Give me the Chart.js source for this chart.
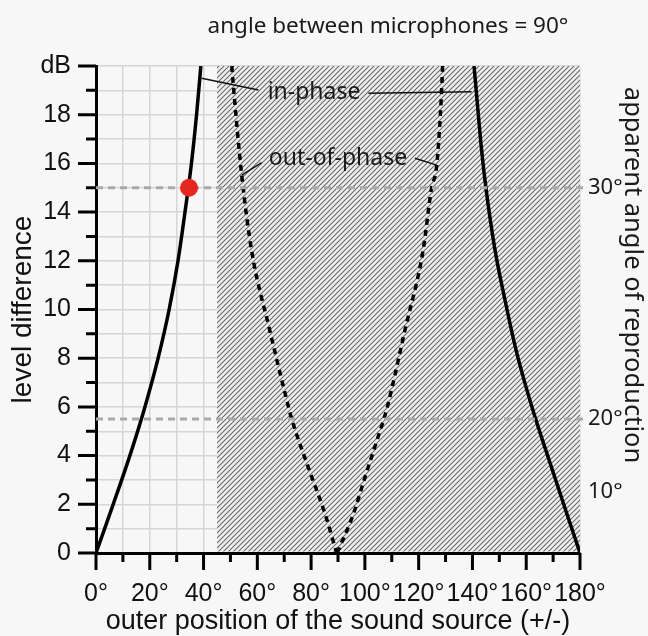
<!DOCTYPE html>
<html>
<head>
<meta charset="utf-8">
<script src="https://cdn.jsdelivr.net/npm/chart.js@4"></script>
<style>
  html, body { margin: 0; padding: 0; background: #f7f7f7; }
  #wrap { width: 648px; height: 636px; }
</style>
</head>
<body>
<div id="wrap"><canvas id="chart"></canvas></div>
<script>
// ---- values ----
const xTickLabels = ['0°','20°','40°','60°','80°','100°','120°','140°','160°','180°'];
const yTickLabels = ['0','2','4','6','8','10','12','14','16','18','dB'];

// in-phase (solid), angle in degrees vs level difference in dB
const inPhaseLeftDeg  = [0, 6.4, 12.6, 18.2, 23.1, 27.2, 30.5, 33.1, 35.5, 37.4, 39.0];
const inPhaseLeftDb   = [0, 2, 4, 6, 8, 10, 12, 14, 16, 18, 20];
const inPhaseRightDeg = [140.6, 143.4, 145.0, 148.4, 152.1, 156.2, 159.2, 163.5, 168.5, 174.4, 180];
const inPhaseRightDb  = [20, 16.55, 15, 12.44, 10.39, 8.34, 7.1, 5.5, 3.82, 1.85, 0];

// out-of-phase (dotted)
const outPhaseLeftDeg  = [50.5, 51.0, 54.2, 57.9, 64.5, 70.9, 72.8, 79.0, 85.2, 89.5];
const outPhaseLeftDb   = [20, 19.3, 15.5, 12.4, 9.2, 6.3, 5.5, 3.5, 1.6, 0];
const outPhaseRightDeg = [89.7, 95.7, 100.0, 104.4, 108.1, 115.0, 121.6, 124.8, 126.7, 128.5, 128.9];
const outPhaseRightDb  = [0, 1.6, 3.1, 4.6, 5.9, 9.2, 12.4, 15, 15.9, 18.9, 20];

// highlighted point and reference levels
const markerDeg = [34.6];
const markerDb  = [15];
const guideLevels = [15, 5.5];
const guideEndDeg = 182;
const rightTickLevels = [2.5, 5.5, 15];
const rightTickLabels = ['10°', '20°', '30°'];
const hatchFrom = 45;

const titleText = 'angle between microphones = 90°';
const xTitle = 'outer position of the sound source (+/-)';
const yTitle = 'level difference';
const rightTitle = 'apparent angle of reproduction';
// annotation labels: text position and leader line ends, in data units
const notes = [
  { text: 'in-phase', at: [81.1, 18.63],
    leaders: [[[60.4, 19.01], [39.3, 19.5]], [[101.3, 18.88], [139.7, 18.94]]] },
  { text: 'out-of-phase', at: [90.0, 15.93],
    leaders: [[[61.6, 16.03], [54.2, 15.52]], [[118.6, 16.21], [126.7, 15.93]]] }
];

const pts = (xs, ys) => xs.map((x, i) => ({ x, y: ys[i] }));

// hatch pattern for the shaded region
const hatch = (() => {
  const s = 5, c = document.createElement('canvas');
  c.width = c.height = s;
  const g = c.getContext('2d');
  g.fillStyle = '#efefef'; g.fillRect(0, 0, s, s);
  g.strokeStyle = '#6a6a6a'; g.lineWidth = 1.1;
  g.beginPath();
  g.moveTo(0, s); g.lineTo(s, 0);
  g.moveTo(-1, 1); g.lineTo(1, -1);
  g.moveTo(s - 1, s + 1); g.lineTo(s + 1, s - 1);
  g.stroke();
  return g.createPattern(c, 'repeat');
})();

const SANS = '"Liberation Sans", Arial, sans-serif';
const CAL = '"Noto Sans", "Open Sans", sans-serif';

const decor = {
  id: 'decor',
  beforeDatasetsDraw(chart) {
    const { ctx, scales: { x, y } } = chart;
    const l = x.getPixelForValue(hatchFrom), r = x.getPixelForValue(180);
    const t = y.getPixelForValue(20), b = y.getPixelForValue(0) - 1.5;
    ctx.save();
    ctx.fillStyle = hatch;
    ctx.fillRect(l, t, r - l, b - t);
    ctx.restore();
  },
  afterDraw(chart) {
    const { ctx, chartArea: a, scales: { x, y } } = chart;
    ctx.save();
    // tick marks (long on labelled values, short in between)
    ctx.strokeStyle = '#000'; ctx.lineWidth = 3; ctx.lineCap = 'butt';
    ctx.beginPath();
    y.ticks.forEach(t => {
      const py = y.getPixelForValue(t.value);
      const len = t.value % 2 === 0 ? 18 : 10;
      ctx.moveTo(a.left - len, py); ctx.lineTo(a.left, py);
    });
    x.ticks.forEach(t => {
      const px = x.getPixelForValue(t.value);
      const len = t.value % 20 === 0 ? 17 : 9;
      ctx.moveTo(px, a.bottom); ctx.lineTo(px, a.bottom + len);
    });
    ctx.stroke();

    // annotation leaders + labels
    ctx.lineWidth = 1.5; ctx.strokeStyle = '#111';
    ctx.fillStyle = '#1a1a1a';
    ctx.font = '23px ' + CAL;
    ctx.textAlign = 'center'; ctx.textBaseline = 'alphabetic';
    notes.forEach(n => {
      ctx.beginPath();
      n.leaders.forEach(([p, q]) => {
        ctx.moveTo(x.getPixelForValue(p[0]), y.getPixelForValue(p[1]));
        ctx.lineTo(x.getPixelForValue(q[0]), y.getPixelForValue(q[1]));
      });
      ctx.stroke();
      ctx.fillText(n.text, x.getPixelForValue(n.at[0]), y.getPixelForValue(n.at[1]));
    });

    // right-hand angle labels
    ctx.font = '22px ' + CAL;
    ctx.textAlign = 'left'; ctx.textBaseline = 'middle';
    rightTickLevels.forEach((v, i) => {
      ctx.fillText(rightTickLabels[i], a.right + 8, y.getPixelForValue(v));
    });

    // right title
    ctx.save();
    ctx.translate(632, 275);
    ctx.rotate(Math.PI / 2);
    ctx.font = '25.5px ' + CAL;
    ctx.textAlign = 'center'; ctx.textBaseline = 'middle';
    ctx.fillText(rightTitle, 0, 0);
    ctx.restore();

    // top title
    ctx.font = '22.5px ' + CAL;
    ctx.textAlign = 'center'; ctx.textBaseline = 'alphabetic';
    ctx.fillText(titleText, 388, 33);
    ctx.restore();
  }
};

const curve = (label, xs, ys, dash) => ({
  label, data: pts(xs, ys), showLine: true, pointRadius: 0,
  borderColor: '#000', borderWidth: 3.5, borderDash: dash || [],
  cubicInterpolationMode: 'monotone'
});

new Chart(document.getElementById('chart'), {
  type: 'scatter',
  data: {
    datasets: [
      { label: 'marker', data: pts(markerDeg, markerDb), showLine: false,
        pointRadius: 9, pointBackgroundColor: '#e8261e', pointBorderWidth: 0 },
      ...guideLevels.map(v => ({
        label: 'guide ' + v, data: [{ x: 0, y: v }, { x: guideEndDeg, y: v }],
        showLine: true, pointRadius: 0, borderColor: '#a9a9a9', borderWidth: 3,
        borderDash: [7, 5], clip: false
      })),
      curve('in-phase L', inPhaseLeftDeg, inPhaseLeftDb),
      curve('in-phase R', inPhaseRightDeg, inPhaseRightDb),
      curve('out-of-phase L', outPhaseLeftDeg, outPhaseLeftDb, [6, 5]),
      curve('out-of-phase R', outPhaseRightDeg, outPhaseRightDb, [6, 5])
    ]
  },
  options: {
    responsive: true,
    maintainAspectRatio: false,
    animation: false,
    layout: { padding: { top: 66, right: 68, left: 0, bottom: 0 } },
    plugins: { legend: { display: false }, tooltip: { enabled: false } },
    scales: {
      x: {
        type: 'linear', min: 0, max: 180,
        afterFit: s => { s.height = 83; },
        border: { display: true, color: '#000', width: 3 },
        grid: { color: '#d6d6d6', lineWidth: 1.5, drawTicks: true, tickLength: 17, tickColor: 'rgba(0,0,0,0)' },
        ticks: {
          stepSize: 10, autoSkip: false, maxRotation: 0, minRotation: 0, padding: 9,
          color: '#111', font: { family: SANS, size: 25 },
          callback: v => (v % 20 === 0 ? xTickLabels[v / 20] : '')
        },
        title: { display: true, text: xTitle, color: '#111',
          font: { family: SANS, size: 27, lineHeight: 1 }, padding: { top: 0, bottom: 0.5 } }
      },
      y: {
        type: 'linear', min: 0, max: 20,
        afterFit: s => { s.width = 96; },
        border: { display: true, color: '#000', width: 3 },
        grid: { color: '#d6d6d6', lineWidth: 1.5, drawTicks: true, tickLength: 18, tickColor: 'rgba(0,0,0,0)' },
        ticks: {
          stepSize: 1, autoSkip: false, padding: 7,
          color: '#111', font: { family: SANS, size: 25 },
          callback: v => (v % 2 === 0 ? yTickLabels[v / 2] : '')
        },
        title: { display: true, text: yTitle, color: '#111',
          font: { family: SANS, size: 28, lineHeight: 1 }, padding: { top: 9, bottom: 0 } }
      }
    }
  },
  plugins: [decor]
});
</script>
</body>
</html>
